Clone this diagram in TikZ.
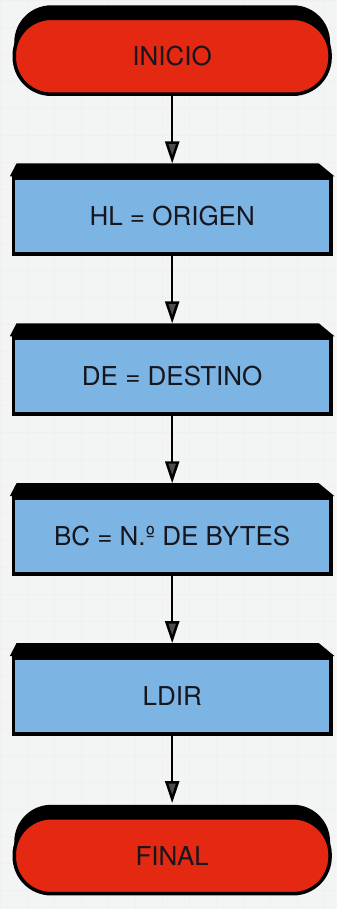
\documentclass[tikz,border=0pt]{standalone}
\usepackage{fontspec}
\setmainfont{TeX Gyre Heros}
\usepackage{xcolor}
\definecolor{rojo}{RGB}{228, 40, 18}
\definecolor{azul}{RGB}{124, 180, 228}
\definecolor{papel}{RGB}{243, 244, 244}
\definecolor{tinta}{RGB}{22, 22, 30}
\usetikzlibrary{positioning,shadows,arrows.meta,backgrounds}

\tikzset{
  terminal/.style={draw=black, line width=3.5pt, fill=rojo, rounded corners=37pt,
    minimum width=316pt, minimum height=76pt, text=tinta,
    font=\fontsize{26}{31}\selectfont,
    drop shadow={shadow xshift=0pt, shadow yshift=13pt, fill=black, opacity=1}},
  proceso/.style={draw=black, line width=3.5pt, fill=azul,
    minimum width=318pt, minimum height=76pt, text=tinta,
    font=\fontsize{26}{31}\selectfont},
  flecha/.style={-{Triangle[length=22pt,width=14pt,fill=black!70]}, line width=2.5pt},
  node distance=80.5pt
}

\begin{document}
\begin{tikzpicture}[x=1pt, y=1pt]
  \begin{scope}[on background layer]
    \fill[papel] (0,0) rectangle (337,-909);
    \draw[black!6, line width=0.6pt] (0,0) grid[step=27pt] (337,-909);
  \end{scope}
  \useasboundingbox (0,0) rectangle (337,-909);

  \node[terminal] (inicio) at (172,-56) {INICIO};
  \node[proceso, below=of inicio] (origen) {HL = ORIGEN};
  \node[proceso, below=of origen] (destino) {DE = DESTINO};
  \node[proceso, below=of destino] (bytes) {BC = N.º DE BYTES};
  \node[proceso, below=of bytes] (ldir) {LDIR};
  \node[terminal, below=of ldir] (final) {FINAL};

  % banda negra superior de las cajas
  \begin{scope}[on background layer]
    \foreach \n in {origen,destino,bytes,ldir}
      \fill[black] ([xshift=-1.75pt]\n.north west) -- ([shift={(5pt,13pt)}]\n.north west)
        -- ([shift={(-14pt,13pt)}]\n.north east) -- ([xshift=1.75pt]\n.north east) -- cycle;
  \end{scope}

  \draw[flecha] (inicio) -- ([yshift=13pt]origen.north);
  \draw[flecha] (origen) -- ([yshift=13pt]destino.north);
  \draw[flecha] (destino) -- ([yshift=13pt]bytes.north);
  \draw[flecha] (bytes) -- ([yshift=13pt]ldir.north);
  \draw[flecha] (ldir) -- ([yshift=13pt]final.north);
\end{tikzpicture}
\end{document}
